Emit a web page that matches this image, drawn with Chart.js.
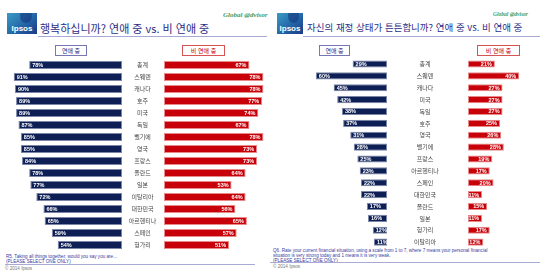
<!DOCTYPE html>
<html lang="ko">
<head>
<meta charset="utf-8">
<script src="https://cdn.jsdelivr.net/npm/chart.js@4"></script>
<style>
  body { margin: 0; width: 540px; height: 273px; position: relative; background: #fff; overflow: hidden; font-family: "Noto Sans CJK KR", sans-serif; }
  .abs { position: absolute; }
  .logo { background: linear-gradient(140deg, #3a9cc4 0%, #2366a8 55%, #1c3a86 100%); overflow: hidden; }
  .logo .blob { position: absolute; border-radius: 50%; background: rgba(20, 50, 120, 0.55); }
  .logo span { position: absolute; left: 0; right: 0; bottom: 1px; text-align: center; color: #fff; font: bold 8px "Liberation Sans", sans-serif; }
  .title { color: #2d2d86; white-space: nowrap; line-height: 1; }
  .ga { color: #3f9a62; font-family: "Liberation Serif", serif; font-style: italic; font-weight: bold; white-space: nowrap; line-height: 1; }
  .rule { height: 1px; background: #a9a9d6; }
  .box { border: 1px solid; box-sizing: border-box; text-align: center; font-size: 6px; line-height: 9px; background: #fff; }
  .note { color: #3b3b9e; font: 4.6px "Liberation Sans", sans-serif; line-height: 5px; white-space: nowrap; }
  .copy { color: #777; font: 4.6px "Liberation Sans", sans-serif; white-space: nowrap; }
</style>
</head>
<body>

<!-- left panel -->
<div class="abs logo" style="left:7px;top:13px;width:30px;height:21px;"><div class="blob" style="left:13px;top:-4px;width:12px;height:14px;"></div><span>Ipsos</span></div>
<div class="abs ga" style="left:223px;top:12px;font-size:7px;">Global @dvisor</div>
<div class="abs title" style="left:40px;top:23px;font-size:11px;">행복하십니까? 연애 중 vs. 비 연애 중</div>
<div class="abs rule" style="left:38px;top:36px;width:229px;"></div>
<div class="abs box" style="left:55px;top:45px;width:32px;height:11px;border-color:#7676b4;color:#2d2d86;">연애 중</div>
<div class="abs box" style="left:182px;top:45px;width:43px;height:11px;border-color:#d65454;color:#c80000;">비 연애 중</div>
<div class="abs" style="left:3px;top:59px;width:119px;height:192px;"><canvas id="happyLove" width="119" height="192"></canvas></div>
<div class="abs" style="left:124px;top:59px;width:142px;height:192px;"><canvas id="happyNot" width="142" height="192"></canvas></div>
<div class="abs note" style="left:6px;top:254px;">R5. Taking all things together, would you say you are...<br>(PLEASE SELECT ONE ONLY)</div>
<div class="abs rule" style="left:5px;top:264px;width:250px;"></div>
<div class="abs copy" style="left:5px;top:266px;">© 2014 Ipsos</div>

<!-- right panel -->
<div class="abs logo" style="left:277px;top:13px;width:26px;height:21px;"><div class="blob" style="left:11px;top:-4px;width:11px;height:14px;"></div><span>Ipsos</span></div>
<div class="abs ga" style="left:493px;top:12px;font-size:5.5px;">Global @dvisor</div>
<div class="abs title" style="left:307px;top:23px;font-size:9.5px;">자신의 재정 상태가 튼튼합니까? 연애 중 vs. 비 연애 중</div>
<div class="abs rule" style="left:303px;top:36px;width:237px;"></div>
<div class="abs box" style="left:319px;top:45px;width:31px;height:11px;border-color:#7676b4;color:#2d2d86;">연애 중</div>
<div class="abs box" style="left:477px;top:45px;width:43px;height:11px;border-color:#d65454;color:#c80000;">비 연애 중</div>
<div class="abs" style="left:304px;top:58px;width:83px;height:190px;"><canvas id="moneyLove" width="83" height="190"></canvas></div>
<div class="abs" style="left:395px;top:58px;width:137px;height:190px;"><canvas id="moneyNot" width="137" height="190"></canvas></div>
<div class="abs note" style="left:273px;top:248px;">Q6. Rate your current financial situation, using a scale from 1 to 7, where 7 means your personal financial<br>situation is very strong today and 1 means it is very weak.<br>(PLEASE SELECT ONE ONLY)</div>
<div class="abs rule" style="left:270px;top:262px;width:270px;"></div>
<div class="abs copy" style="left:273px;top:264px;">© 2014 Ipsos</div>

<script>
// 행복하십니까? (percent)
const happyCountries = ['총계', '스웨덴', '캐나다', '호주', '미국', '독일', '벨기에', '영국', '프랑스', '폴란드', '일본', '이탈리아', '대한민국', '아르헨티나', '스페인', '헝가리'];
const happyInLove = [78, 91, 90, 89, 89, 87, 85, 85, 84, 78, 77, 72, 66, 65, 59, 54];
const happyNotInLove = [67, 78, 78, 77, 74, 67, 78, 73, 73, 64, 53, 64, 56, 65, 57, 51];

// 재정 상태 (percent)
const moneyCountries = ['총계', '스웨덴', '캐나다', '미국', '독일', '호주', '영국', '벨기에', '프랑스', '아르헨티나', '스페인', '대한민국', '폴란드', '일본', '헝가리', '이탈리아'];
const moneyInLove = [29, 60, 45, 42, 38, 37, 31, 28, 25, 23, 22, 22, 17, 16, 12, 11];
const moneyNotInLove = [21, 40, 27, 27, 27, 25, 26, 28, 19, 17, 20, 11, 15, 11, 17, 12];

const NAVY = '#0d1f55';
const RED = '#c8000a';
const labelFont = '6px "Noto Sans CJK KR"';

// white % labels at the outer end of each bar
const barLabels = {
  id: 'barLabels',
  afterDatasetsDraw(chart, args, opts) {
    const ctx = chart.ctx;
    const values = chart.data.datasets[0].data;
    ctx.save();
    ctx.font = 'bold 5.5px "Liberation Sans"';
    ctx.fillStyle = '#fff';
    ctx.textBaseline = 'middle';
    chart.getDatasetMeta(0).data.forEach((bar, i) => {
      if (opts.side === 'left') {
        ctx.textAlign = 'left';
        ctx.fillText(values[i] + '%', bar.x + 3, bar.y + 0.5);
      } else {
        ctx.textAlign = 'right';
        ctx.fillText(values[i] + '%', bar.x - 3, bar.y + 0.5);
      }
    });
    ctx.restore();
  }
};

function widestLabel(labels) {
  const c = document.createElement('canvas').getContext('2d');
  c.font = labelFont;
  return Math.max(...labels.map(l => c.measureText(l).width));
}

function leftBars(id, labels, data, max, thick) {
  new Chart(document.getElementById(id), {
    type: 'bar',
    data: { labels: labels, datasets: [{ data: data, backgroundColor: NAVY, borderColor: '#7c86a6', borderWidth: 1, borderSkipped: false, categoryPercentage: 1, barPercentage: thick }] },
    options: {
      indexAxis: 'y', responsive: false, animation: false,
      layout: { padding: 0 },
      plugins: { legend: { display: false }, tooltip: { enabled: false }, barLabels: { side: 'left' } },
      scales: {
        x: { display: false, reverse: true, min: 0, max: max },
        y: { display: false }
      }
    },
    plugins: [barLabels]
  });
}

// axisWidth = room for the country names, centerOffset = distance from bar base to the middle of the names
function rightBars(id, labels, data, max, thick, axisWidth, centerOffset) {
  const pad = centerOffset - widestLabel(labels) / 2;
  new Chart(document.getElementById(id), {
    type: 'bar',
    data: { labels: labels, datasets: [{ data: data, backgroundColor: RED, borderColor: '#e88a8a', borderWidth: 1, borderSkipped: false, categoryPercentage: 1, barPercentage: thick }] },
    options: {
      indexAxis: 'y', responsive: false, animation: false,
      layout: { padding: 0 },
      plugins: { legend: { display: false }, tooltip: { enabled: false }, barLabels: { side: 'right' } },
      scales: {
        x: { display: false, min: 0, max: max },
        y: {
          grid: { display: false, drawTicks: false },
          border: { display: false },
          ticks: { crossAlign: 'center', padding: pad, color: '#444', font: { family: 'Noto Sans CJK KR', size: 6 } },
          afterFit(scale) {
            scale.width = axisWidth;
            // tick padding would otherwise also push the bars down from top and bottom
            scale.paddingTop = 0;
            scale.paddingBottom = 0;
          }
        }
      }
    },
    plugins: [barLabels]
  });
}

leftBars('happyLove', happyCountries, happyInLove, 100, 0.68);
rightBars('happyNot', happyCountries, happyNotInLove, 80, 0.68, 40, 21.5);
leftBars('moneyLove', moneyCountries, moneyInLove, 70, 0.6);
rightBars('moneyNot', moneyCountries, moneyNotInLove, 50, 0.6, 73, 43);
</script>
</body>
</html>
